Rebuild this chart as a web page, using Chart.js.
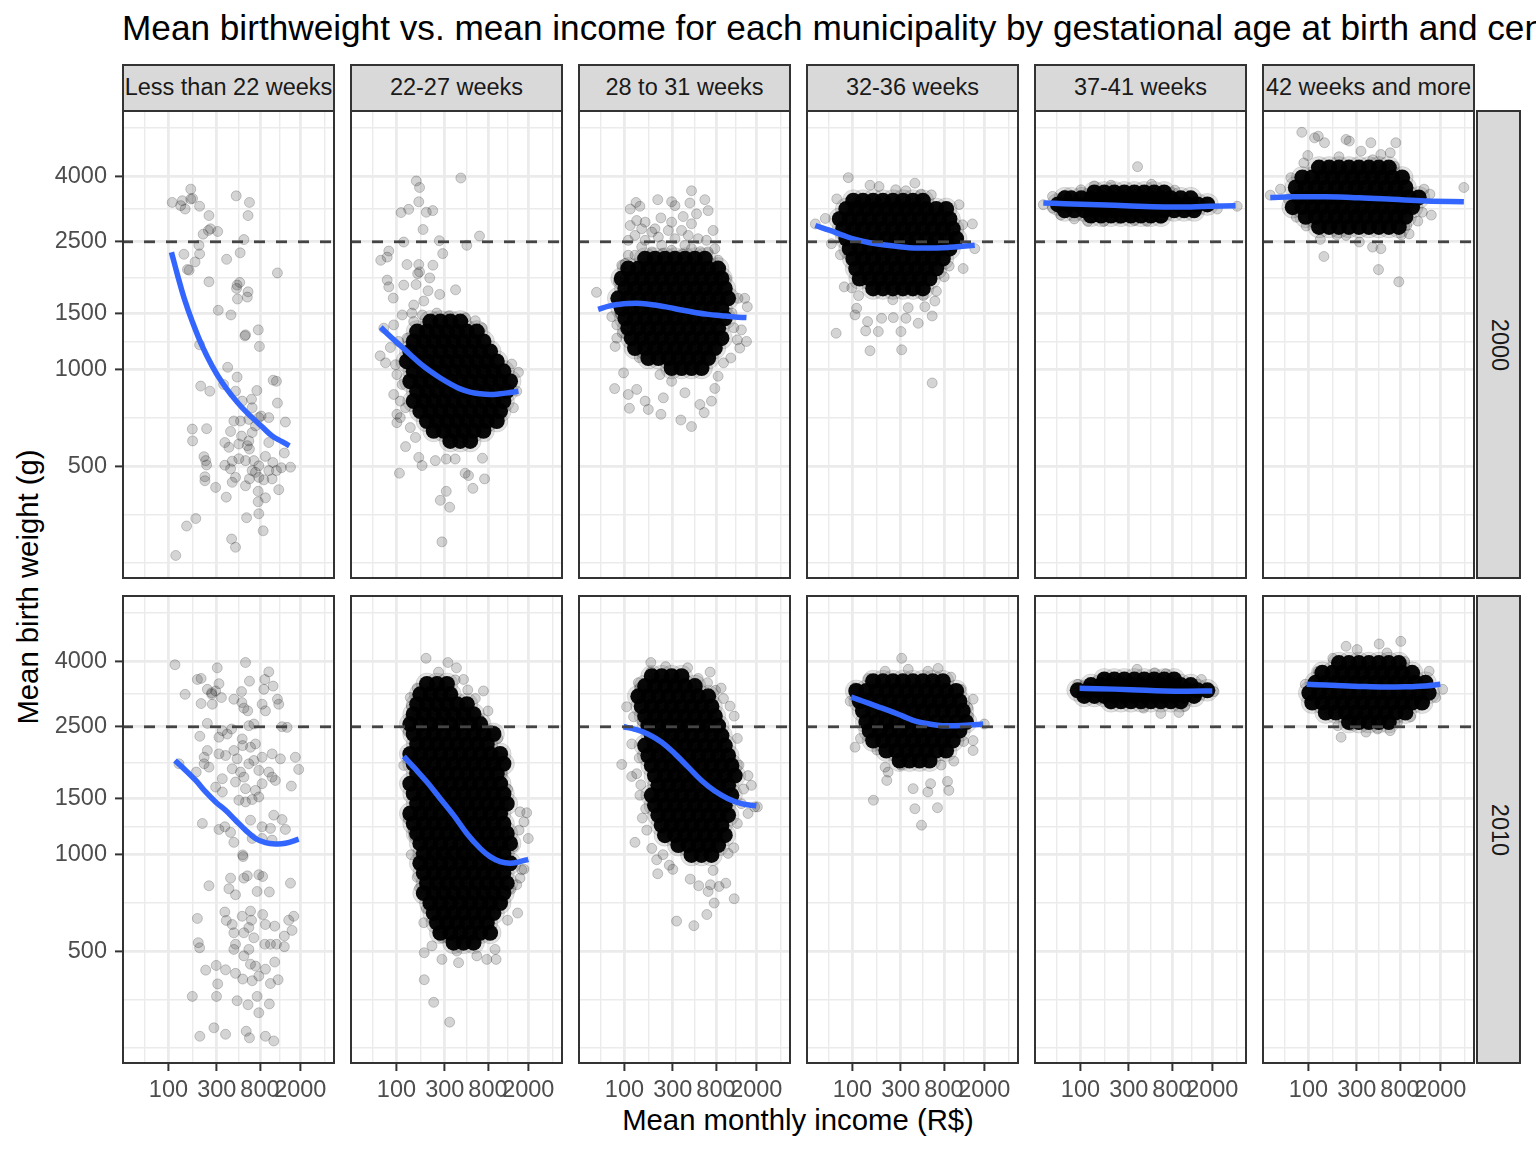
<!DOCTYPE html>
<html>
<head>
<meta charset="utf-8">
<script src="https://cdn.jsdelivr.net/npm/chart.js@4.4.1/dist/chart.umd.min.js"></script>
<style>
  html,body{margin:0;padding:0;background:#fff;}
  body{width:1536px;height:1152px;overflow:hidden;position:relative;font-family:'Liberation Sans',Arial,Helvetica,sans-serif;}
  .abs{position:absolute;}
  #title{left:122px;top:10px;font-size:35.2px;line-height:35px;white-space:nowrap;color:#000;}
  .strip{position:absolute;background:#d9d9d9;box-sizing:border-box;border:2px solid #333;color:#1a1a1a;font-size:23.5px;text-align:center;white-space:nowrap;overflow:hidden;}
  .rlabel{position:absolute;left:50%;top:50%;transform:translate(-50%,-50%) rotate(90deg);white-space:nowrap;}
  .axtitle{position:absolute;font-size:29.3px;color:#000;white-space:nowrap;}
</style>
</head>
<body>
<div id="title" class="abs">Mean birthweight vs. mean income for each municipality by gestational age at birth and census year</div>
<div id="ytitle" class="axtitle" style="left:28px;top:587px;transform:translate(-50%,-50%) rotate(-90deg);">Mean birth weight (g)</div>
<div id="xtitle" class="axtitle" style="left:798px;top:1120px;transform:translate(-50%,-50%);">Mean monthly income (R$)</div>
<script>
// ---------- categories / ticks ----------
const AGE_GROUPS = ["Less than 22 weeks","22-27 weeks","28 to 31 weeks","32-36 weeks","37-41 weeks","42 weeks and more"];
const YEARS = ["2000","2010"];
const X_MAJOR = [100,300,800,2000];
const X_MINOR = [57.7,173.2,489.9,1264.9,3464.1];
const Y_MAJOR = [500,1000,1500,2500,4000];
const Y_MINOR = [250,353.6,707.1,1224.7,1936.5,3162.3,5656.9];
const X_MIN = 34.8, X_MAX = 4400, Y_MIN = 223, Y_MAX = 6430;
const LBW = 2500;

// ---------- 2000 : scattered points [income, birthweight] ----------
const P_LT22_2000 = [[166,3646],[109,3315],[137,3356],[132,3240],[146,3162],[166,3397],[173,3410],[203,3225],[251,3017],[466,3475],[630,3315],[610,3017],[260,2744],[248,2712],[306,2692],[220,2640],[555,2540],[200,2438],[142,2286],[203,2292],[183,2164],[160,2040],[154,2050],[375,2205],[510,2310],[1190,2000],[251,1877],[476,1833],[505,1868],[470,1790],[610,1747],[600,1682],[480,1659],[310,1530],[414,1480],[576,1283],[568,1274],[770,1330],[790,1181],[203,1195],[384,1017],[476,948],[1080,927],[1163,920],[208,889],[256,857],[350,899],[459,857],[745,861],[660,809],[534,798],[1190,787],[670,761],[820,717],[977,709],[779,709],[1426,687],[442,692],[514,692],[621,700],[722,668],[172,653],[238,655],[173,600],[410,642],[526,621],[670,637],[977,593],[621,600],[600,580],[630,566],[360,593],[395,573],[495,587],[1392,550],[906,537],[224,536],[233,521],[238,505],[360,504],[426,519],[495,528],[576,521],[696,521],[779,502],[1070,514],[1300,495],[1600,497],[410,491],[670,485],[722,479],[977,485],[1163,485],[229,464],[229,451],[292,430],[426,446],[459,462],[576,435],[630,457],[779,462],[873,454],[1054,457],[1225,423],[768,418],[906,399],[768,388],[372,401],[779,356],[590,346],[186,344],[151,326],[860,315],[420,297],[459,280],[118,264]];
const P_2227_2000 = [[157,3865],[169,3690],[432,3950],[166,3330],[111,3083],[132,3155],[197,3090],[228,3126],[183,2730],[118,2496],[265,2520],[660,2605],[495,2438],[286,2297],[70,2190],[84,2340],[81,2240],[127,2124],[166,2124],[162,1990],[169,2015],[229,2114],[213,1930],[81,1900],[84,1810],[93,1670],[118,1833],[156,1840],[205,1760],[267,1715],[383,1772],[148,1589],[186,1635],[69,1104],[78,1050],[87,1172],[1373,1041],[1600,981],[107,476],[166,533],[179,503],[242,521],[310,527],[380,527],[476,476],[514,468],[568,427],[740,457],[705,530],[310,418],[271,392],[335,373],[281,291],[123,576],[101,684],[109,709],[1426,761],[1537,857],[75,1346],[94,1378],[101,965],[114,899],[94,837],[109,798],[123,761],[101,726],[137,660],[154,615],[98,1036],[118,1061],[105,1224],[127,1253],[148,1411],[114,1480],[142,1500],[180,1480],[250,1500],[330,1470],[480,1450],[600,1420],[700,1350]];
const P_2831_2000 = [[459,3604],[213,3381],[292,3332],[315,3240],[621,3381],[442,3301],[114,3162],[130,3315],[142,3225],[670,3126],[229,2967],[380,2996],[514,3054],[114,2810],[132,2912],[160,2878],[200,2744],[271,2712],[366,2712],[750,2712],[779,2380],[109,2270],[102,2139],[87,1877],[53,1740],[906,1922],[1015,1922],[1321,1667],[1537,1667],[1630,1570],[75,1462],[84,1378],[1426,1330],[1300,1238],[1600,1224],[1373,1167],[81,1181],[84,1253],[1120,1087],[98,977],[80,873],[109,837],[132,868],[160,798],[112,758],[172,752],[229,726],[360,697],[459,665],[612,735],[722,798],[555,779],[779,874],[840,954],[224,965],[292,920],[395,847],[242,817],[127,2617],[160,2526],[216,2586],[315,2556],[426,2617],[534,2556],[645,2526],[148,2409],[233,2438],[395,2438],[109,2526],[186,2680],[459,2844],[292,2878],[148,2744],[186,2325],[292,2352],[459,2380],[670,2325],[127,2270],[94,2114],[840,2190],[240,2300],[380,2290],[560,2330],[1150,1500],[1200,1350],[90,1500],[95,1300],[140,1090],[950,1050]];
const P_3236_2000 = [[91,3960],[149,3750],[183,3715],[267,3630],[337,3604],[413,3806],[473,3518],[1126,3262],[1526,2842],[1220,2824],[43,2842],[54,2956],[62,2466],[76,2278],[83,1810],[98.5,1797],[110,1552],[106,1480],[141,1411],[135,1320],[180,1314],[194,1445],[253,1452],[301,1314],[337,1445],[446,1394],[518,1570],[612,1469],[650,1635],[69,1298],[149,1145],[306,1153],[612,909],[1237,2064],[1610,2380],[948,2946],[804,1945],[674,1755],[355,1559],[70,3400],[600,3500],[1100,2600],[900,2100],[115,1700],[250,1650],[500,1700]];
const P_3741_2000 = [[366,4284],[43,3262],[53,3462],[53,3182],[64,3030],[87,2946],[118,2893],[170,2893],[242,2946],[340,2912],[452,2893],[621,2946],[853,3620],[503,3775],[137,3732],[200,3750],[1426,3162],[1658,3240],[3520,3225],[2243,3162],[101,3630],[70,3490]];
const P_4200_2000 = [[86,5480],[115,5267],[125,5330],[144,5085],[235,5205],[253,5146],[413,5085],[728,5085],[641,4730],[518,4674],[330,4787],[98.5,4640],[67,3960],[53,3646],[42,3493],[1382,3646],[1580,3518],[1630,3027],[3416,3690],[1330,3090],[934,2810],[826,2628],[985,2646],[518,2380],[429,2407],[318,2496],[235,2617],[191,2628],[131,2544],[142,2250],[491,2048],[779,1877],[76,2982],[63,3397],[90,4400],[200,4600],[430,4500],[700,4300],[1150,3300],[1200,2900],[95,2800]];

// ---------- 2010 : scattered points ----------
const P_LT22_2010 = [[116,3900],[193,3510],[210,3535],[146,3155],[210,2953],[242,3270],[267,3190],[292,3232],[315,3405],[303,3815],[333,3083],[271,2939],[267,3155],[576,3963],[977,3706],[630,3467],[893,3510],[1078,3347],[873,3270],[526,3217],[442,3046],[530,2974],[605,2803],[555,2858],[840,2939],[906,2803],[1190,3046],[1225,2939],[242,2562],[204,2336],[340,2432],[420,2461],[380,2374],[315,2320],[621,2520],[696,2550],[1321,2502],[1480,2490],[225,2010],[242,2109],[315,2059],[366,2035],[225,1918],[188,1807],[251,1872],[127,1918],[442,2109],[534,2292],[540,2185],[645,2159],[722,2211],[476,1987],[621,1918],[696,1963],[840,2010],[1054,2059],[1273,1987],[1788,2010],[1928,1842],[426,1850],[514,1807],[555,1743],[779,1829],[977,1807],[1054,1743],[1136,1702],[840,1663],[459,1683],[340,1723],[292,1623],[340,1567],[576,1605],[722,1585],[779,1512],[495,1477],[576,1459],[670,1484],[1632,1635],[1095,1327],[1321,1286],[840,1221],[1015,1207],[1426,1198],[1054,1110],[840,1123],[645,1280],[670,1123],[216,1250],[315,1198],[360,1221],[410,1173],[442,1092],[540,998],[545,986],[410,845],[555,845],[600,859],[779,866],[850,855],[251,800],[395,783],[459,750],[750,768],[990,765],[1600,815],[193,633],[360,663],[372,624],[426,606],[534,643],[645,667],[660,625],[850,651],[906,606],[1118,599],[1537,625],[1723,643],[1658,581],[1392,558],[442,571],[555,571],[696,551],[621,593],[197,532],[203,513],[459,526],[893,526],[1015,526],[1163,526],[1392,517],[621,507],[442,507],[555,484],[645,456],[722,450],[779,419],[906,440],[1118,463],[1208,408],[1015,397],[233,437],[296,452],[366,438],[459,427],[540,410],[670,405],[306,396],[172,362],[298,362],[476,351],[610,341],[750,362],[990,343],[779,322],[281,289],[204,272],[366,276],[585,282],[630,269],[906,272],[1095,263]];
const P_2227_2010 = [[196,4085],[322,3963],[391,3815],[459,3510],[505,3255],[137,3083],[157,2816],[137,2660],[130,2415],[722,3232],[600,3061],[550,2803],[660,2640],[906,2432],[118,1895],[1054,2010],[1095,1786],[1110,1670],[1136,1375],[1658,1359],[1928,1350],[1810,1265],[1620,1192],[2000,1123],[1426,1058],[1723,897],[1810,901],[1658,845],[1537,806],[146,1178],[148,1142],[169,787],[1570,658],[1250,625],[197,678],[186,614],[224,520],[188,495],[281,472],[410,461],[621,484],[779,472],[962,472],[188,408],[233,347],[335,301],[315,565],[395,501],[281,551],[940,507],[260,3700],[380,3500],[160,3300],[140,2900],[800,2800],[1000,2300],[1250,1600],[1300,1150],[1350,780],[130,1300],[140,1000],[160,850]];
const P_2831_2010 = [[182,3963],[255,3848],[420,3815],[183,3706],[137,3429],[142,3307],[534,3535],[660,3429],[792,3248],[948,3061],[1210,2699],[105,2885],[123,2686],[94,1909],[118,1751],[132,1786],[142,1530],[162,1390],[166,1192],[127,1092],[186,1046],[208,964],[213,872],[277,927],[446,839],[540,800],[670,768],[705,806],[768,707],[858,796],[1000,815],[1210,729],[650,651],[327,621],[484,601],[1658,1762],[1788,1643],[1928,1408],[2050,1408],[1658,1343],[1426,1441],[1054,1009],[750,893],[118,2211],[700,3700],[900,3300],[1100,2900],[1300,2300],[1350,1900],[1500,1600],[1300,1250],[1200,1050],[240,1000],[300,900],[150,2600],[140,2000],[145,1650],[150,1300]];
const P_3236_2010 = [[306,4085],[144,3535],[210,3723],[355,3774],[555,3723],[935,3570],[1175,3270],[1550,3046],[1380,2865],[106,3307],[95,3003],[106,2160],[144,2586],[174,2118],[210,1872],[218,1702],[161,1477],[225,1807],[397,1605],[413,1390],[480,1235],[555,1567],[590,1663],[690,1400],[866,1690],[893,1585],[1000,1955],[1550,2109],[1550,2265],[2000,2550],[120,2300],[130,3100],[700,3800],[1400,2700],[1250,2250],[750,1900],[300,1900]];
const P_3741_2010 = [[94,3389],[362,3774],[540,3680],[696,3654],[1560,3510],[200,2939],[420,2858],[621,2750],[937,2770],[1070,2893],[2080,3217],[148,3046],[109,3155]];
const P_4200_2010 = [[235,4452],[302,4348],[499,4526],[815,4612],[595,4245],[890,3994],[1550,3723],[174,4085],[124,3723],[93,3389],[144,2831],[1020,2686],[757,2586],[210,2320],[370,2407],[640,2432],[480,2461],[2110,3270],[1800,3083],[262,2520],[195,2520]];

// ---------- saturated (overplotted) point clouds: [birthweight, [incomes...]] ----------
const C_2227_2000 = [[1411,[216,271,340,426]],[1314,[160,200,251,315,395,495,621]],[1224,[148,186,233,292,366,459,576,722]],[1139,[137,172,216,271,340,426,534,670,840]],[1061,[127,160,200,251,315,395,495,621,779,977]],[988,[148,186,233,292,366,459,576,722,906,1136]],[920,[137,172,216,271,340,426,534,670,840,1054,1321]],[857,[160,200,251,315,395,495,621,779,977,1225]],[798,[148,186,233,292,366,459,576,722,906,1136]],[743,[172,216,271,340,426,534,670,840,1054]],[692,[200,251,315,395,495,621,779,977]],[645,[233,292,366,459,576,722]],[600,[340,426,534]]];
const C_2831_2000 = [[2216,[160,200,251,315,395,495,621]],[2064,[109,137,172,216,271,340,426,534,670,840]],[1922,[94,118,148,186,233,292,366,459,576,722,906]],[1790,[102,127,160,200,251,315,395,495,621,779,977]],[1667,[87,109,137,172,216,271,340,426,534,670,840,1054]],[1552,[94,118,148,186,233,292,366,459,576,722,906]],[1445,[102,127,160,200,251,315,395,495,621,779,977]],[1346,[109,137,172,216,271,340,426,534,670,840]],[1253,[118,148,186,233,292,366,459,576,722,906]],[1167,[127,160,200,251,315,395,495,621,779]],[1087,[172,216,271,340,426,534,670]],[1012,[292,366,459,576]]];
const C_3236_2000 = [[3357,[102,127,160,200,251,315,395,495]],[3162,[87,109,137,172,216,271,340,426,534,670,840]],[2946,[75,94,118,148,186,233,292,366,459,576,722,906]],[2744,[81,102,127,160,200,251,315,395,495,621,779,977]],[2556,[87,109,137,172,216,271,340,426,534,670,840,1054]],[2380,[94,118,148,186,233,292,366,459,576,722,906]],[2216,[102,127,160,200,251,315,395,495,621,779]],[2064,[109,137,172,216,271,340,426,534,670]],[1922,[118,148,186,233,292,366,459,576]],[1790,[160,200,251,315,395,495]]];
const C_3741_2000 = [[3561,[137,172,216,271,340,426,534,670]],[3414,[70,81,102,127,160,200,251,315,395,495,621,779,977,1225]],[3269,[60,75,94,118,148,186,233,292,366,459,576,722,906,1136,1426,1788]],[3132,[70,87,109,137,172,216,271,340,426,534,670,840,1054,1321]],[3016,[127,160,200,251,315,395,495,621]]];
const C_4200_2000 = [[4256,[127,160,200,251,315,395,495,621]],[3963,[87,109,137,172,216,271,340,426,534,670,840]],[3690,[75,94,118,148,186,233,292,366,459,576,722,906]],[3436,[81,102,127,160,200,251,315,395,495,621,779,977,1225]],[3205,[70,87,109,137,172,216,271,340,426,534,670,840,1054]],[2990,[94,118,148,186,233,292,366,459,576,722,906]],[2782,[127,160,200,251,315,395,495,621,779]]];
const C_2227_2010 = [[3397,[200,251,315]],[3155,[172,216,271,340]],[2939,[160,200,251,315,395,495]],[2737,[148,186,233,292,366,459,576]],[2550,[137,172,216,271,340,426,534,670]],[2374,[148,186,233,292,366,459,576,722,906]],[2211,[160,200,251,315,395,495,621,779]],[2059,[137,172,216,271,340,426,534,670,840,1054]],[1918,[148,186,233,292,366,459,576,722,906,1136]],[1786,[160,200,251,315,395,495,621,779,977]],[1663,[137,172,216,271,340,426,534,670,840,1054]],[1548,[148,186,233,292,366,459,576,722,906,1136]],[1441,[160,200,251,315,395,495,621,779,977,1225]],[1343,[137,172,216,271,340,426,534,670,840,1054]],[1250,[148,186,233,292,366,459,576,722,906,1136]],[1164,[160,200,251,315,395,495,621,779,977,1225]],[1084,[172,216,271,340,426,534,670,840,1054,1321]],[1009,[186,233,292,366,459,576,722,906,1136]],[940,[172,216,271,340,426,534,670,840,1054,1321]],[876,[186,233,292,366,459,576,722,906,1136]],[815,[200,251,315,395,495,621,779,977,1225]],[759,[186,233,292,366,459,576,722,906,1136]],[707,[216,271,340,426,534,670,840,1054]],[658,[233,292,366,459,576,722,906]],[614,[251,315,395,495,621,779]],[571,[271,340,426,534,670,840]],[532,[366,459,576]]];
const C_2831_2010 = [[3592,[186,233,292,366]],[3347,[160,200,251,315,395,495]],[3111,[137,172,216,271,340,426,534,670]],[2893,[148,186,233,292,366,459,576,722]],[2699,[160,200,251,315,395,495,621,779]],[2520,[172,216,271,340,426,534,670,840]],[2348,[186,233,292,366,459,576,722,906]],[2185,[160,200,251,315,395,495,621,779,977]],[2035,[172,216,271,340,426,534,670,840,1054]],[1895,[186,233,292,366,459,576,722,906,1136]],[1762,[200,251,315,395,495,621,779,977,1225]],[1643,[216,271,340,426,534,670,840,1054]],[1530,[186,233,292,366,459,576,722,906,1136]],[1424,[200,251,315,395,495,621,779,977]],[1327,[216,271,340,426,534,670,840,1054]],[1235,[233,292,366,459,576,722,906]],[1150,[251,315,395,495,621,779,977]],[1071,[340,426,534,670,840]],[998,[459,576,722]]];
const C_3236_2010 = [[3467,[160,200,251,315,395,495,621,779]],[3232,[109,137,172,216,271,340,426,534,670,840,1054]],[3003,[118,148,186,233,292,366,459,576,722,906,1136]],[2803,[127,160,200,251,315,395,495,621,779,977,1225]],[2586,[137,172,216,271,340,426,534,670,840,1054,1321]],[2432,[148,186,233,292,366,459,576,722,906,1136]],[2265,[160,200,251,315,395,495,621,779,977]],[2109,[216,271,340,426,534,670,840]],[1963,[292,366,459,576]]];
const C_3741_2010 = [[3510,[172,216,271,340,426,534,670,840]],[3372,[127,160,200,251,315,395,495,621,779,977,1225]],[3248,[94,118,148,186,233,292,366,459,576,722,906,1136,1426,1788]],[3120,[109,137,172,216,271,340,426,534,670,840,1054,1321]],[3003,[200,251,315,395,495,621,779,977]]];
const C_4200_2010 = [[3946,[200,251,315,395,495,621,779]],[3680,[137,172,216,271,340,426,534,670,840,1054]],[3429,[118,148,186,233,292,366,459,576,722,906,1136,1426]],[3190,[102,127,160,200,251,315,395,495,621,779,977,1225,1537]],[2974,[109,137,172,216,271,340,426,534,670,840,1054,1321]],[2770,[148,186,233,292,366,459,576,722,906]],[2586,[251,315,395,495,621]]];

// ---------- loess fits [income, birthweight] ----------
const F_LT22_2000 = [[107,2320],[123,1968],[143,1667],[172,1411],[216,1181],[271,1024],[340,910],[426,827],[534,761],[670,709],[840,664],[1054,622],[1321,597],[1560,579]];
const F_2227_2000 = [[70,1355],[87,1268],[109,1189],[137,1113],[172,1044],[216,988],[271,942],[340,903],[426,871],[534,851],[670,841],[840,837],[1054,841],[1321,849],[1600,857]];
const F_2831_2000 = [[55,1540],[70,1577],[87,1596],[109,1607],[148,1607],[200,1589],[271,1563],[366,1533],[495,1507],[670,1486],[906,1472],[1225,1459],[1600,1452]];
const F_3236_2000 = [[43,2810],[60,2712],[81,2617],[109,2538],[148,2484],[200,2449],[271,2420],[366,2397],[495,2392],[670,2392],[906,2403],[1225,2420],[1610,2438]];
const F_3741_2000 = [[43,3301],[70,3286],[148,3262],[315,3232],[670,3210],[1225,3210],[1928,3225],[3397,3240]];
const F_4200_2000 = [[42,3436],[70,3452],[148,3452],[315,3427],[670,3389],[1426,3349],[3416,3334]];
const F_LT22_2010 = [[116,1963],[148,1829],[186,1702],[233,1567],[292,1459],[366,1374],[459,1280],[576,1192],[722,1123],[906,1090],[1136,1080],[1426,1085],[1928,1117]];
const F_2227_2010 = [[118,2024],[148,1872],[200,1682],[271,1493],[366,1327],[495,1164],[670,1046],[840,986],[1054,951],[1321,940],[1658,951],[2000,967]];
const F_2831_2010 = [[98,2500],[127,2456],[172,2371],[233,2237],[315,2059],[426,1872],[576,1702],[779,1577],[1054,1493],[1426,1441],[2000,1417]];
const F_3236_2010 = [[97,3095],[127,3003],[172,2899],[233,2803],[315,2699],[426,2598],[576,2550],[779,2520],[1054,2520],[1426,2532],[1950,2550]];
const F_3741_2010 = [[98,3293],[148,3286],[315,3262],[670,3232],[1136,3225],[2000,3232]];
const F_4200_2010 = [[96,3389],[148,3372],[315,3340],[576,3323],[977,3331],[1426,3347],[2000,3389]];

// ---------- assembly ----------
const PANEL_DATA = [
  [ {pts:P_LT22_2000,core:[],fit:F_LT22_2000}, {pts:P_2227_2000,core:C_2227_2000,fit:F_2227_2000}, {pts:P_2831_2000,core:C_2831_2000,fit:F_2831_2000},
    {pts:P_3236_2000,core:C_3236_2000,fit:F_3236_2000}, {pts:P_3741_2000,core:C_3741_2000,fit:F_3741_2000}, {pts:P_4200_2000,core:C_4200_2000,fit:F_4200_2000} ],
  [ {pts:P_LT22_2010,core:[],fit:F_LT22_2010}, {pts:P_2227_2010,core:C_2227_2010,fit:F_2227_2010}, {pts:P_2831_2010,core:C_2831_2010,fit:F_2831_2010},
    {pts:P_3236_2010,core:C_3236_2010,fit:F_3236_2010}, {pts:P_3741_2010,core:C_3741_2010,fit:F_3741_2010}, {pts:P_4200_2010,core:C_4200_2010,fit:F_4200_2010} ]
];

const L = {colLeft:122, colPitch:228, panelW:213, rowTop:[110,595], panelH:469, yAxisW:122, xAxisH:46, stripTop:64, stripH:46, rStripLeft:1476, rStripW:45};
const FONT = "'Liberation Sans', Arial, Helvetica, sans-serif";
const X_TICKS = [...X_MAJOR, ...X_MINOR].sort((a,b)=>a-b);
const Y_TICKS = [...Y_MAJOR, ...Y_MINOR].sort((a,b)=>a-b);

const toXY = a => a.map(([x,y]) => ({x, y}));
const coreXY = rows => { const out = []; rows.forEach(([y, xs]) => xs.forEach(x => out.push({x, y}))); return out; };

const panelBorder = {
  id: 'panelBorder',
  afterDraw(chart) {
    const a = chart.chartArea, ctx = chart.ctx;
    ctx.save();
    ctx.strokeStyle = '#333333';
    ctx.lineWidth = 2;
    ctx.strokeRect(a.left + 1, a.top + 1, a.right - a.left - 2, a.bottom - a.top - 2);
    ctx.restore();
  }
};

function gridOpts(majors, showTicks) {
  return {
    color: '#ebebeb',
    lineWidth: c => (c.tick && majors.includes(c.tick.value)) ? 2.8 : 1.4,
    drawTicks: showTicks,
    tickLength: 7,
    tickWidth: 2,
    tickColor: c => (c.tick && majors.includes(c.tick.value)) ? '#333333' : 'rgba(0,0,0,0)'
  };
}
function zeroPad(s) { s.paddingLeft = 0; s.paddingRight = 0; s.paddingTop = 0; s.paddingBottom = 0; }

function xScale(show) {
  return {
    type: 'logarithmic', position: 'bottom', min: X_MIN, max: X_MAX,
    afterBuildTicks: s => { s.ticks = X_TICKS.map(v => ({value: v})); },
    afterFit: s => { s.height = show ? L.xAxisH : 0; zeroPad(s); },
    border: {display: false},
    grid: gridOpts(X_MAJOR, show),
    ticks: {display: show, autoSkip: false, maxRotation: 0, minRotation: 0, padding: 5, color: '#4d4d4d',
            font: {family: FONT, size: 23.5}, callback: v => X_MAJOR.includes(v) ? String(v) : ''}
  };
}
function yScale(show) {
  return {
    type: 'logarithmic', position: 'left', min: Y_MIN, max: Y_MAX,
    afterBuildTicks: s => { s.ticks = Y_TICKS.map(v => ({value: v})); },
    afterFit: s => { s.width = show ? L.yAxisW : 0; zeroPad(s); },
    border: {display: false},
    grid: gridOpts(Y_MAJOR, show),
    ticks: {display: show, autoSkip: false, padding: 8, color: '#4d4d4d',
            font: {family: FONT, size: 23.5}, callback: v => Y_MAJOR.includes(v) ? String(v) : ''}
  };
}

function addDiv(cls, css, html) {
  const d = document.createElement('div');
  d.className = cls;
  Object.assign(d.style, css);
  if (html !== undefined) d.innerHTML = html;
  document.body.appendChild(d);
  return d;
}

// top strips
AGE_GROUPS.forEach((g, c) => {
  addDiv('strip', {left: (L.colLeft + c * L.colPitch) + 'px', top: L.stripTop + 'px', width: L.panelW + 'px',
                   height: L.stripH + 'px', lineHeight: (L.stripH - 3) + 'px', borderBottom: 'none'}, g);
});
// right strips
YEARS.forEach((y, r) => {
  const s = addDiv('strip', {left: L.rStripLeft + 'px', top: L.rowTop[r] + 'px', width: L.rStripW + 'px', height: L.panelH + 'px'});
  const t = document.createElement('div'); t.className = 'rlabel'; t.textContent = y; s.appendChild(t);
});

// panels
PANEL_DATA.forEach((rowData, r) => {
  rowData.forEach((p, c) => {
    const showY = c === 0, showX = r === 1;
    const left = showY ? L.colLeft - L.yAxisW : L.colLeft + c * L.colPitch;
    const w = L.panelW + (showY ? L.yAxisW : 0);
    const h = L.panelH + (showX ? L.xAxisH : 0);
    const wrap = addDiv('abs', {left: left + 'px', top: L.rowTop[r] + 'px', width: w + 'px', height: h + 'px'});
    const cv = document.createElement('canvas');
    wrap.appendChild(cv);
    const core = coreXY(p.core);
    new Chart(cv, {
      type: 'scatter',
      data: {
        datasets: [
          {label: 'threshold', data: [{x: X_MIN, y: LBW}, {x: X_MAX, y: LBW}], showLine: true, pointRadius: 0,
           borderColor: '#444444', borderWidth: 2.8, borderDash: [11, 11], fill: false, order: 0},
          {label: 'loess', data: toXY(p.fit), showLine: true, pointRadius: 0, borderColor: '#3366FF',
           borderWidth: 5.5, tension: 0.4, fill: false, order: 1},
          {label: 'municipalities', data: toXY(p.pts), pointRadius: 5, pointBackgroundColor: 'rgba(0,0,0,0.17)',
           pointBorderColor: 'rgba(0,0,0,0.2)', pointBorderWidth: 1, order: 2},
          {label: 'municipalities (overplotted)', data: core, pointRadius: 8,
           pointBackgroundColor: 'rgba(0,0,0,0.96)', pointBorderWidth: 0, order: 3},
          {label: 'overplotted halo', data: core, pointRadius: 11,
           pointBackgroundColor: 'rgba(0,0,0,0.11)', pointBorderColor: 'rgba(0,0,0,0.1)', pointBorderWidth: 1, order: 4}
        ]
      },
      options: {
        responsive: true, maintainAspectRatio: false, animation: false, events: [],
        layout: {padding: 0, autoPadding: false},
        plugins: {legend: {display: false}, tooltip: {enabled: false}},
        scales: {x: xScale(showX), y: yScale(showY)}
      },
      plugins: [panelBorder]
    });
  });
});
</script>
</body>
</html>
